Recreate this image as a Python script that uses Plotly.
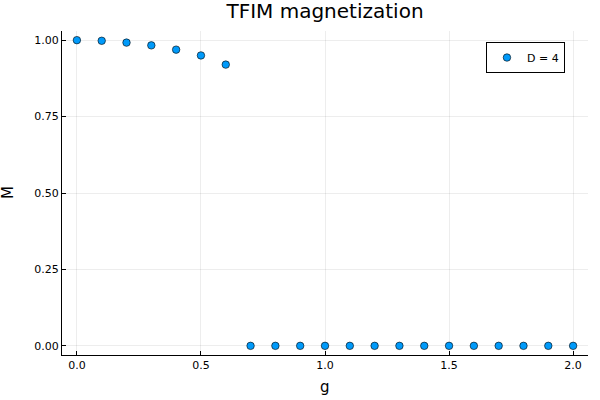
import plotly.graph_objects as go

# transverse field g and magnetization M (bond dimension D = 4)
g_vals = [0.0, 0.1, 0.2, 0.3, 0.4, 0.5, 0.6, 0.7, 0.8, 0.9, 1.0,
          1.1, 1.2, 1.3, 1.4, 1.5, 1.6, 1.7, 1.8, 1.9, 2.0]
m_vals = [1.000, 0.998, 0.992, 0.983, 0.969, 0.950, 0.920, 0.0, 0.0, 0.0, 0.0,
          0.0, 0.0, 0.0, 0.0, 0.0, 0.0, 0.0, 0.0, 0.0, 0.0]

x_ticks = [0.0, 0.5, 1.0, 1.5, 2.0]
x_ticklabels = ["0.0", "0.5", "1.0", "1.5", "2.0"]
y_ticks = [0.0, 0.25, 0.5, 0.75, 1.0]
y_ticklabels = ["0.00", "0.25", "0.50", "0.75", "1.00"]

fig = go.Figure()
fig.add_trace(go.Scatter(
    x=g_vals, y=m_vals, mode="markers", name="D = 4",
    marker=dict(color="#009AFA", size=7.5, line=dict(color="black", width=0.6)),
))

axis_common = dict(
    showline=True, linecolor="black", linewidth=1, mirror=False,
    ticks="inside", ticklen=4, tickcolor="black",
    showgrid=True, gridcolor="rgba(0,0,0,0.07)", gridwidth=0.5,
    zeroline=False, tickfont=dict(size=11, color="black"),
    automargin=False,
)

fig.update_layout(
    width=600, height=400,
    paper_bgcolor="white", plot_bgcolor="white",
    font=dict(family="DejaVu Sans", color="black"),
    margin=dict(l=62, r=12, t=31, b=45),
    title=dict(text="TFIM magnetization", xref="container", x=0.5417, xanchor="center",
               yref="container", y=0.972, yanchor="middle", font=dict(size=20),
               automargin=False),
    xaxis=dict(range=[-0.06, 2.06], tickvals=x_ticks, ticktext=x_ticklabels,
               **axis_common),
    yaxis=dict(range=[-0.03, 1.03], tickvals=y_ticks, ticktext=y_ticklabels,
               **axis_common),
    showlegend=True,
    legend=dict(x=0.806, y=0.966, xanchor="left", yanchor="top",
                bgcolor="white", bordercolor="black", borderwidth=1,
                font=dict(size=11)),
)

# axis titles
fig.add_annotation(text="g", xref="paper", yref="paper", x=0.5, y=0,
                   yshift=-32, yanchor="middle", showarrow=False,
                   font=dict(size=15))
fig.add_annotation(text="M", xref="paper", yref="paper", x=0, y=0.5,
                   xshift=-54, xanchor="center", textangle=-90, showarrow=False,
                   font=dict(size=15))

fig.write_html("out.html", config={"displayModeBar": False},
               post_script="document.body.style.margin='0';")
